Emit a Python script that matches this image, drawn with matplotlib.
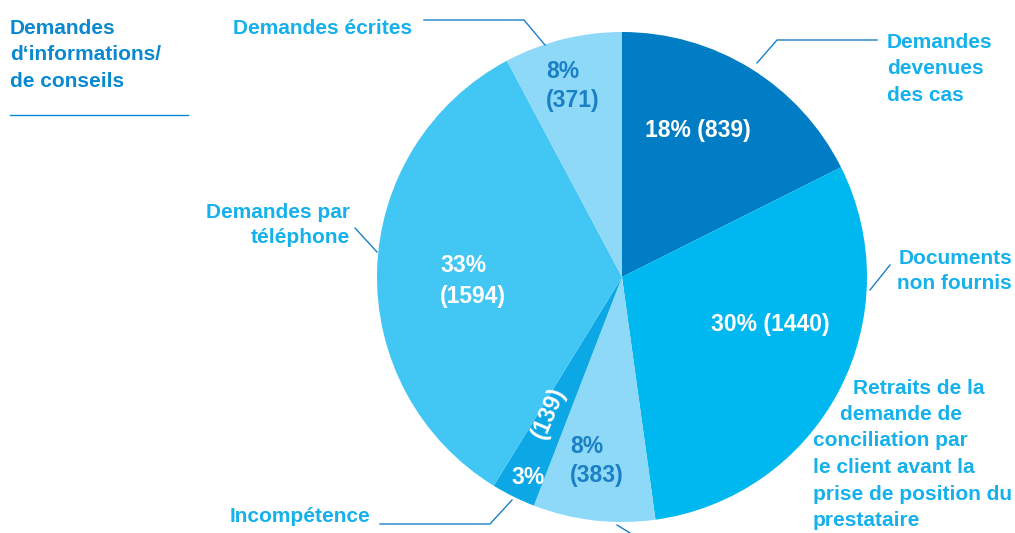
import matplotlib.pyplot as plt

# values, clockwise from 12 o'clock
counts = [839, 1440, 383, 139, 1594, 371]
percents = ['18%', '30%', '8%', '3%', '33%', '8%']
colors = ['#007dc5', '#00b8f0', '#8ed8f8', '#0ca8e6', '#42c7f4', '#8ed8f8']

cyan = '#14b1ec'
dark = '#1a80c6'
W, H = 1015, 533

plt.rcParams['font.family'] = ['Liberation Sans', 'DejaVu Sans']
plt.rcParams['font.weight'] = 'bold'

fig = plt.figure(figsize=(W / 100, H / 100), dpi=100)
ax = fig.add_axes([0, 0, 1, 1])

# pie drawn in pixel-like data coords (y up)
ax.pie(counts, colors=colors, startangle=90, counterclock=False,
       center=(622, H - 277), radius=245,
       wedgeprops=dict(linewidth=0))
ax.set_xlim(0, W)
ax.set_ylim(0, H)
ax.axis('off')

def Y(y):
    return H - y

fs_in = 16.5
fs_out = 15

# labels inside the slices
ax.text(698, Y(130), f'{percents[0]} ({counts[0]})', color='white', fontsize=fs_in,
        ha='center', va='center')
ax.text(770, Y(325), f'{percents[1]} ({counts[1]})', color='white', fontsize=fs_in,
        ha='center', va='center')
ax.text(570, Y(461), f'{percents[2]}\n({counts[2]})', color=dark, fontsize=fs_in,
        ha='left', va='center', linespacing=1.38)
ax.text(528, Y(478), percents[3], color='white', fontsize=fs_in, ha='center', va='center')
ax.text(549, Y(413), f'({counts[3]})', color='white', fontsize=fs_in,
        ha='center', va='center', rotation=67, rotation_mode='anchor')
ax.text(440, Y(281), f'{percents[4]}\n({counts[4]})', color='white', fontsize=fs_in,
        ha='left', va='center', linespacing=1.45)
ax.text(546, Y(86), f'{percents[5]}\n({counts[5]})', color=dark, fontsize=fs_in,
        ha='left', va='center', linespacing=1.38)

# outside labels
ax.text(10, Y(55), 'Demandes\nd‘informations/\nde conseils', color='#0a88d0',
        fontsize=fs_out, ha='left', va='center', linespacing=1.47)
ax.plot([10, 188], [Y(115), Y(115)], color='#0a88d0', lw=1)

ax.text(412, Y(28), 'Demandes écrites', color=cyan, fontsize=fs_out, ha='right', va='center')
ax.plot([424, 524, 545], [Y(20), Y(20), Y(45)], color='#1a80c6', lw=1)

ax.text(887, Y(69), 'Demandes\ndevenues\ndes cas', color=cyan, fontsize=fs_out,
        ha='left', va='center', linespacing=1.47)
ax.plot([877, 777, 757], [Y(40), Y(40), Y(63)], color='#1a80c6', lw=1)

ax.text(350, Y(225), 'Demandes par\ntéléphone', color=cyan, fontsize=fs_out,
        ha='right', va='center', multialignment='right', linespacing=1.45)
ax.plot([355, 377], [Y(228), Y(252)], color='#1a80c6', lw=1)

ax.text(1012, Y(271), 'Documents\nnon fournis', color=cyan, fontsize=fs_out,
        ha='right', va='center', multialignment='right', linespacing=1.45)
ax.plot([890, 870], [Y(265), Y(290)], color='#1a80c6', lw=1)

retraits = ['Retraits de la', 'demande de', 'conciliation par',
            'le client avant la', 'prise de position du', 'prestataire']
xs = [853, 840, 813, 813, 813, 813]
for i, (line, x) in enumerate(zip(retraits, xs)):
    ax.text(x, Y(388 + 26.5 * i), line, color=cyan, fontsize=fs_out, ha='left', va='center')
ax.plot([617, 630], [Y(525), Y(533)], color='#1a80c6', lw=1)

ax.text(370, Y(516), 'Incompétence', color=cyan, fontsize=fs_out, ha='right', va='center')
ax.plot([380, 490, 512], [Y(524), Y(524), Y(500)], color='#1a80c6', lw=1)

fig.savefig('out.png', dpi=100)
